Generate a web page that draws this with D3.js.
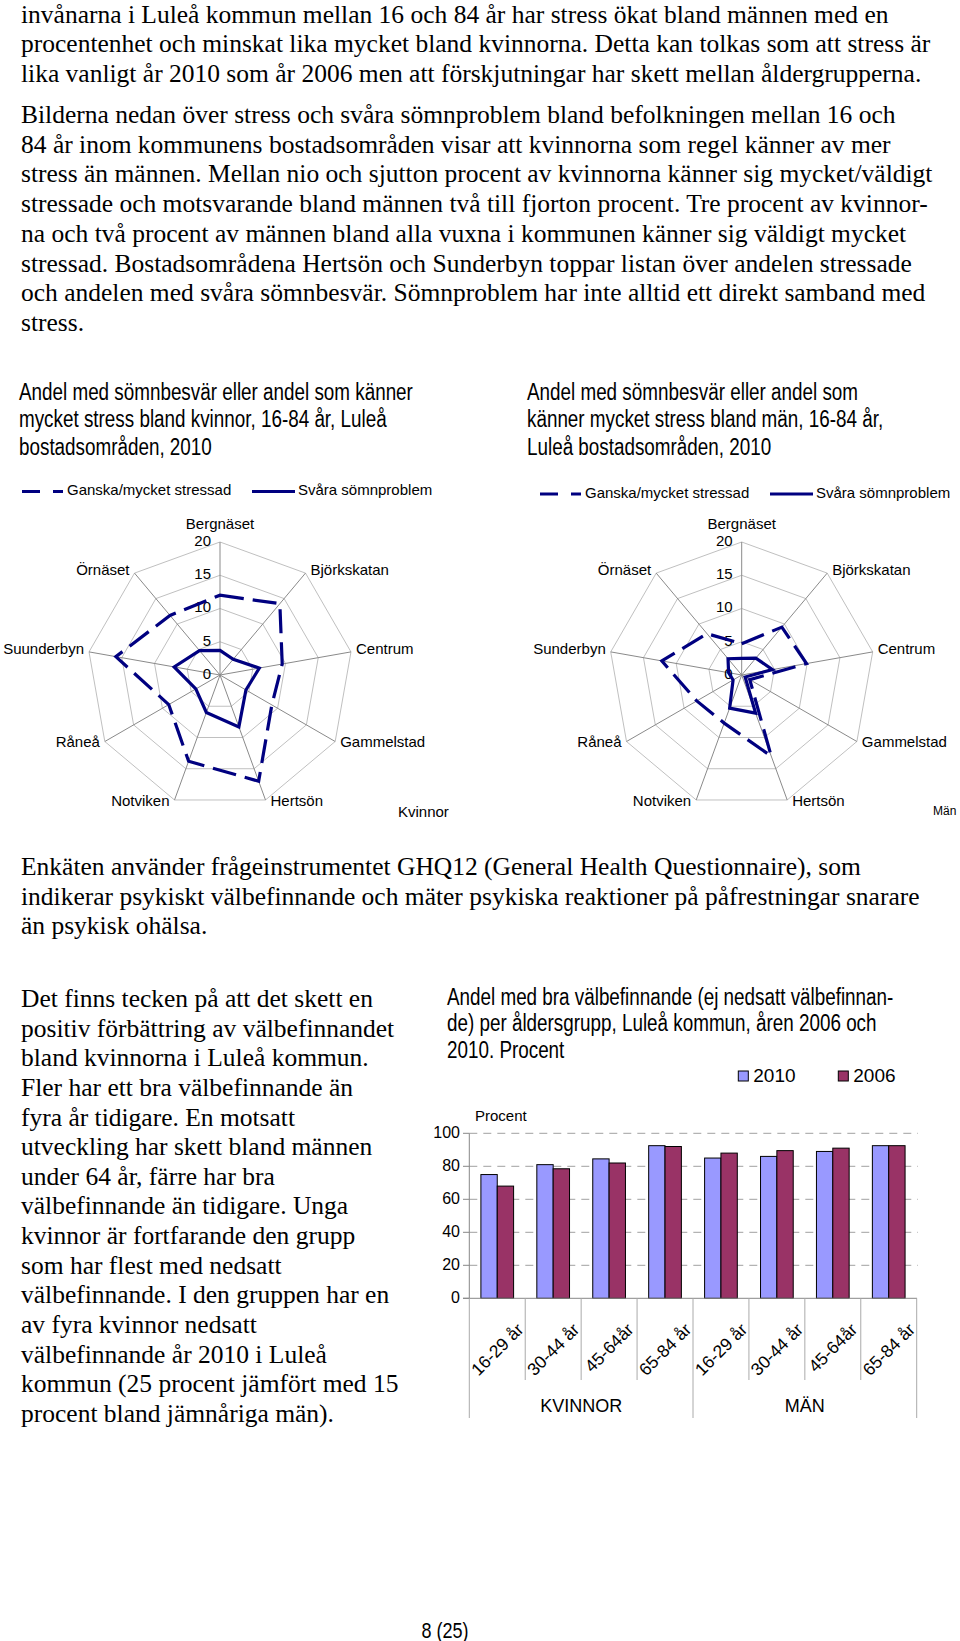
<!DOCTYPE html>
<html><head><meta charset="utf-8">
<script src="https://cdn.jsdelivr.net/npm/d3@7/dist/d3.min.js"></script>
<style>
body{margin:0;background:#fff}
.serif{font-family:"Liberation Serif","Times New Roman",serif;font-size:25.5px;fill:#000}
.narrow{font-family:"Liberation Sans",Arial,sans-serif;font-size:23px;fill:#000}
.sans{font-family:"Liberation Sans",Arial,sans-serif;fill:#000}
</style></head><body>
<script>
// ---------- text ----------
const para1 = [
"invånarna i Luleå kommun mellan 16 och 84 år har stress ökat bland männen med en",
"procentenhet och minskat lika mycket bland kvinnorna. Detta kan tolkas som att stress är",
"lika vanligt år 2010 som år 2006 men att förskjutningar har skett mellan åldergrupperna."];
const para2 = [
"Bilderna nedan över stress och svåra sömnproblem bland befolkningen mellan 16 och",
"84 år inom kommunens bostadsområden visar att kvinnorna som regel känner av mer",
"stress än männen. Mellan nio och sjutton procent av kvinnorna känner sig mycket/väldigt",
"stressade och motsvarande bland männen två till fjorton procent. Tre procent av kvinnor-",
"na och två procent av männen bland alla vuxna i kommunen känner sig väldigt mycket",
"stressad. Bostadsområdena Hertsön och Sunderbyn toppar listan över andelen stressade",
"och andelen med svåra sömnbesvär. Sömnproblem har inte alltid ett direkt samband med",
"stress."];
const para3 = [
"Enkäten använder frågeinstrumentet GHQ12 (General Health Questionnaire), som",
"indikerar psykiskt välbefinnande och mäter psykiska reaktioner på påfrestningar snarare",
"än psykisk ohälsa."];
const para4 = [
"Det finns tecken på att det skett en","positiv förbättring av välbefinnandet",
"bland kvinnorna i Luleå kommun.","Fler har ett bra välbefinnande än",
"fyra år tidigare. En motsatt","utveckling har skett bland männen",
"under 64 år, färre har bra","välbefinnande än tidigare. Unga",
"kvinnor är fortfarande den grupp","som har flest med nedsatt",
"välbefinnande. I den gruppen har en","av fyra kvinnor nedsatt",
"välbefinnande år 2010 i Luleå","kommun (25 procent jämfört med 15",
"procent bland jämnåriga män)."];
const titleK = ["Andel med sömnbesvär eller andel som känner","mycket stress bland kvinnor, 16-84 år, Luleå","bostadsområden, 2010"];
const titleM = ["Andel med sömnbesvär eller andel som","känner mycket stress bland män, 16-84 år,","Luleå bostadsområden, 2010"];
const titleBar = ["Andel med bra välbefinnande (ej nedsatt välbefinnan-","de) per åldersgrupp, Luleå kommun, åren 2006 och","2010. Procent"];

// ---------- radar data ----------
const areasK = ["Bergnäset","Björkskatan","Centrum","Gammelstad","Hertsön","Notviken","Råneå","Suunderbyn","Örnäset"];
const areasM = ["Bergnäset","Björkskatan","Centrum","Gammelstad","Hertsön","Notviken","Råneå","Sunderbyn","Örnäset"];
const stressK = [12, 14, 9.5, 9, 17, 13.8, 8.9, 15.9, 11.7];
const sleepK  = [3.7, 3.1, 6.0, 4.5, 8.3, 6.0, 4.2, 7.0, 4.8];
const stressM = [4.7, 9.4, 9.9, 1.4, 13, 7.7, 7.8, 12.2, 8.1];
const sleepM  = [2.5, 3.3, 4.7, 0.6, 6.1, 5.3, 1.5, 2.0, 3.2];
const radarTicks = [0,5,10,15,20];
const seriesNames = ["Ganska/mycket stressad","Svåra sömnproblem"];

// ---------- bar data ----------
const ageCats = ["16-29 år","30-44 år","45-64år","65-84 år","16-29 år","30-44 år","45-64år","65-84 år"];
const sexGroups = ["KVINNOR","MÄN"];
const years = ["2010","2006"];
const v2010 = [75, 81, 84.5, 92.5, 85, 86, 89, 92.5];
const v2006 = [68, 78.5, 82, 92, 88, 89.5, 91, 92.5];
const barTicks = [0,20,40,60,80,100];

const svg = d3.select("body").append("svg").attr("width",960).attr("height",1641);
svg.append("rect").attr("width",960).attr("height",1641).attr("fill","#fff");

function lines(arr, x, y0, dy, cls){
  arr.forEach((t,i)=>svg.append("text").attr("class",cls).attr("x",x).attr("y",y0+i*dy).text(t));
}
// condensed sans (Arial Narrow look): Liberation Sans squeezed horizontally
function narrowLines(arr, x, y0, dy, size){
  arr.forEach((t,i)=>svg.append("text").attr("class","narrow").style("font-size",size+"px")
    .attr("transform",`translate(${x},${y0+i*dy}) scale(0.82,1)`).text(t));
}
lines(para1, 21, 22.5, 29.5, "serif");
lines(para2, 21, 123, 29.7, "serif");
lines(para3, 21, 875, 29.6, "serif");
lines(para4, 21, 1007, 29.64, "serif");
narrowLines(titleK, 19, 400, 27.3, 23);
narrowLines(titleM, 527, 400, 27.3, 23);
narrowLines(titleBar, 447, 1004.5, 26.7, 23);
svg.append("text").attr("class","narrow").style("font-size","22px").attr("text-anchor","middle")
  .attr("transform","translate(445,1638) scale(0.82,1)").text("8 (25)");

// ---------- radar ----------
const navy = "#000080";
function radar(cx, cy, areas, stress, sleep, legendX, legendY, cornerLabel, cornerX, cornerY, cornerSize){
  const g = svg.append("g").attr("transform",`translate(${cx},${cy})`);
  const r = d3.scaleLinear().domain([0,20]).range([0,133]);
  const n = areas.length;
  const ang = i => i*2*Math.PI/n;
  [5,10,15,20].forEach(l=>{
    g.append("path").attr("d", d3.lineRadial().angle((d,i)=>ang(i)).radius(()=>r(l)).curve(d3.curveLinearClosed)(areas))
      .attr("fill","none").attr("stroke","#c0c0c0").attr("stroke-width",1);
  });
  areas.forEach((a,i)=>{
    const ex = Math.sin(ang(i))*r(20), ey = -Math.cos(ang(i))*r(20);
    g.append("line").attr("x1",0).attr("y1",0).attr("x2",ex).attr("y2",ey).attr("stroke","#8a8a8a").attr("stroke-width",1);
    let t = g.append("text").attr("class","sans").style("font-size","15px").attr("dominant-baseline","middle");
    if (Math.abs(ex) < 1){ t.attr("x",0).attr("y",ey-17).attr("text-anchor","middle"); }
    else {
      t.attr("x", ex + (ex>0?5:-5)).attr("y", ey + (ey<0?-2:2)).attr("text-anchor", ex>0?"start":"end");
    }
    t.text(a);
  });
  radarTicks.forEach(v=>{
    g.append("text").attr("class","sans").style("font-size","15px").attr("x",-9).attr("y",-r(v))
      .attr("text-anchor","end").attr("dominant-baseline","middle").text(v);
  });
  const line = d3.lineRadial().angle((d,i)=>ang(i)).radius(d=>r(d)).curve(d3.curveLinearClosed);
  g.append("path").attr("d",line(stress)).attr("fill","none").attr("stroke",navy).attr("stroke-width",3.2)
    .attr("stroke-dasharray","24,9").attr("stroke-linejoin","miter");
  g.append("path").attr("d",line(sleep)).attr("fill","none").attr("stroke",navy).attr("stroke-width",3.2)
    .attr("stroke-linejoin","miter");
  const lg = svg.append("g");
  lg.append("line").attr("x1",legendX).attr("x2",legendX+41).attr("y1",legendY).attr("y2",legendY)
    .attr("stroke",navy).attr("stroke-width",3).attr("stroke-dasharray","18,13");
  lg.append("text").attr("class","sans").style("font-size","15px").attr("x",legendX+45).attr("y",legendY)
    .attr("dominant-baseline","middle").text(seriesNames[0]);
  lg.append("line").attr("x1",legendX+230).attr("x2",legendX+273).attr("y1",legendY).attr("y2",legendY)
    .attr("stroke",navy).attr("stroke-width",3);
  lg.append("text").attr("class","sans").style("font-size","15px").attr("x",legendX+276).attr("y",legendY)
    .attr("dominant-baseline","middle").text(seriesNames[1]);
  svg.append("text").attr("class","sans").style("font-size",cornerSize+"px").attr("x",cornerX).attr("y",cornerY)
    .attr("dominant-baseline","middle").text(cornerLabel);
}
radar(220, 675, areasK, stressK, sleepK, 22, 491.5, "Kvinnor", 398, 813, 15);
radar(741.7, 675, areasM, stressM, sleepM, 540, 494, "Män", 933, 812, 12);

// ---------- bar chart ----------
const x0 = d3.scaleBand().domain(d3.range(ageCats.length)).range([469.3, 916.7]).padding(0);
const x1 = d3.scaleBand().domain(years).range([11.6, 44.3]);
const y = d3.scaleLinear().domain([0,100]).range([1298.3, 1133.3]);
const colors = {"2010":"#9999ff","2006":"#993366"};
const bg = svg.append("g");
barTicks.forEach(t=>{
  if (t>0) bg.append("line").attr("x1",469.3).attr("x2",918).attr("y1",y(t)).attr("y2",y(t))
     .attr("stroke","#a0a0a0").attr("stroke-dasharray","8,6");
  bg.append("line").attr("x1",463).attr("x2",469.3).attr("y1",y(t)).attr("y2",y(t)).attr("stroke","#888");
  bg.append("text").attr("class","sans").style("font-size","16px").attr("x",460).attr("y",y(t))
    .attr("text-anchor","end").attr("dominant-baseline","middle").text(t);
});
bg.append("line").attr("x1",469.3).attr("x2",469.3).attr("y1",y(100)).attr("y2",y(0)).attr("stroke","#888");
bg.append("text").attr("class","sans").style("font-size","15px").attr("x",475).attr("y",1117)
  .attr("dominant-baseline","middle").text("Procent");
const rows = ageCats.map((c,i)=>({i, c, vals:[{k:"2010",v:v2010[i]},{k:"2006",v:v2006[i]}]}));
const cg = bg.selectAll("g.cat").data(rows).join("g").attr("transform",d=>`translate(${x0(d.i)},0)`);
cg.selectAll("rect").data(d=>d.vals).join("rect")
  .attr("x",d=>x1(d.k)).attr("width",x1.bandwidth()).attr("y",d=>y(d.v)).attr("height",d=>y(0)-y(d.v))
  .attr("fill",d=>colors[d.k]).attr("stroke","#000").attr("stroke-width",1);
bg.append("line").attr("x1",463).attr("x2",917).attr("y1",y(0)).attr("y2",y(0)).attr("stroke","#888");
d3.range(ageCats.length+1).forEach(i=>{
  const xx = 469.3 + i*x0.bandwidth();
  bg.append("line").attr("x1",xx).attr("x2",xx).attr("y1",y(0)).attr("y2", i%4===0?1418:1380).attr("stroke","#aaa");
});
rows.forEach(d=>{
  const cx = x0(d.i)+x0.bandwidth()/2;
  const t = bg.append("text").attr("class","sans").style("font-size","17.5px")
    .attr("text-anchor","middle").attr("dominant-baseline","central").text(d.c);
  const w = t.node().getComputedTextLength();
  const box = (w+18)*Math.SQRT1_2;
  const cy = 1320 + box/2;
  t.attr("transform",`translate(${cx},${cy}) rotate(-45)`);
});
sexGroups.forEach((s,gi)=>{
  const xs = 469.3 + (gi*4+2)*x0.bandwidth();
  bg.append("text").attr("class","sans").style("font-size","18px").attr("x",xs).attr("y",1407)
    .attr("text-anchor","middle").attr("dominant-baseline","middle").text(s);
});
years.forEach((yr,i)=>{
  const lx = 738.3 + i*100;
  bg.append("rect").attr("x",lx).attr("y",1071).attr("width",10).attr("height",10)
    .attr("fill",colors[yr]).attr("stroke","#000");
  bg.append("text").attr("class","sans").style("font-size","19px").attr("x",lx+15).attr("y",1076.5)
    .attr("dominant-baseline","middle").text(yr);
});
</script>
</body></html>
